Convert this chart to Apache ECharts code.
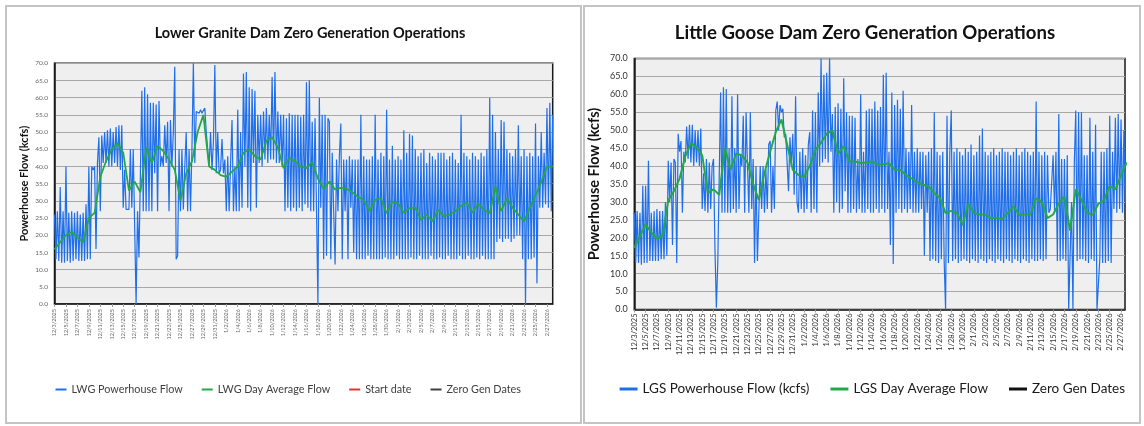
<!DOCTYPE html>
<html>
<head>
<meta charset="utf-8">
<script src="https://cdn.jsdelivr.net/npm/echarts@6/dist/echarts.min.js"></script>
<style>
  html, body { margin: 0; padding: 0; background: #fff; }
  #main { width: 1144px; height: 426px; }
</style>
</head>
<body>
<div id="main"></div>
<script>
// x axis runs in days from 12/3/2025, labelled every 2 days
const startDate = Date.UTC(2025, 11, 3);
const labelStepDays = 2;
const perDay = 4; // flow readings per day
const yMax = 70, yStep = 5;

// Lower Granite powerhouse flow (kcfs), 4 readings per day
const lwgFlow = [
  26, 13, 27, 12.5,   34, 12, 27, 12,   40, 12.5, 26.5, 12,   27, 12.5, 26.5, 13,
  27, 12.5, 26, 12.5,   26.5, 12.5, 29, 13,   40, 13, 40, 39,   40, 16, 41, 48.5,
  27, 49, 41, 50,   41, 50.5, 40, 51,   40, 50, 41, 51.5,   40, 52, 39, 52,
  28, 39, 27.5, 28,   27.5, 45, 28, 45,   45, 0, 27, 13.5,   13, 62, 27, 63,
  27, 61, 27, 58.5,   27, 58.5, 38, 58,   27, 59, 40, 43,   40, 52, 41, 53,
  27, 53.5, 40, 50,   69, 13, 14, 45,   27, 45, 27.5, 40,   50, 27, 45, 27,
  45, 70, 41, 56,   56, 55.5, 56.5, 55.5,   56, 57, 50, 45,   40, 50, 39, 47,
  69.5, 38, 50, 38,   39, 48, 38, 42,   27, 43, 27, 41,   53.5, 27, 40, 27,
  56.5, 27, 50, 28,   67, 40, 67.5, 28,   63, 27, 62.5, 41,   62, 28, 55, 41,
  55, 40, 56, 42,   57, 41, 55, 42,   66, 42, 67.5, 41,   56, 41, 55, 40,
  55, 27, 54, 28,   55.5, 27, 55, 28,   55, 27, 55, 28,   54.5, 27, 55, 29,
  64.5, 28, 65, 27,   53, 27, 54, 28,   0, 60, 28, 55,   13, 55, 14, 54,
  53, 13, 44, 27,   11.5, 42, 27, 43,   52.5, 13, 42, 27,   42, 13, 43, 28,
  42, 15, 42, 13,   42, 13, 55, 13,   43, 13, 42, 14,   42, 13, 43, 13,
  55, 13, 42, 13,   44, 13, 43, 13.5,   56.5, 13, 42, 13,   46, 13, 42, 14,
  43, 13, 42, 13,   50.5, 13, 44, 13,   49.5, 13.5, 49, 13,   45, 13, 43, 14,
  44, 13, 45, 13,   41, 13, 44, 14,   43, 13, 42, 13,   44, 13.5, 44, 13,
  44, 13, 42, 14,   43, 13, 44, 13,   42, 13, 41, 14,   55, 13, 44, 13,
  43, 14, 42, 13,   44, 13, 43, 13.5,   42, 13, 44, 14,   43, 13, 45, 13,
  60, 13, 55, 13,   50, 18, 45, 19,   53.5, 18, 53, 19,   45, 19, 44, 18,
  43, 19, 45, 20,   52, 20, 43, 13,   45, 0, 43, 13,   44, 13, 43, 13.5,
  52.5, 6, 43, 28,   50, 28, 44, 29,   57, 28, 58.5, 27,   55
];

// Lower Granite day average flow (kcfs), one per day
const lwgAvg = [
  15.9, 18, 20, 21, 19.2, 18, 25, 26.5, 37, 41.5,
  45, 46.8, 44, 33, 35.6, 32.5, 45.5, 41, 46, 44.5,
  42, 39, 30, 38, 41.5, 50, 55, 40, 39, 37.5,
  37, 38.5, 40, 44, 45, 43, 42, 47.5, 48.5, 45.5,
  39.5, 42.5, 41.5, 40, 39.5, 41.3, 36.5, 33.5, 35.6, 33.3,
  33.8, 33.5, 32.5, 31.2, 30.3, 27, 30.3, 30.8, 26.4, 29.8,
  29.3, 26.5, 27.9, 28, 24.5, 26, 24, 27.4, 25.5, 26,
  27, 28.5, 29.5, 26.5, 29.3, 27.4, 26.4, 34.1, 27, 30.8,
  28, 26, 24, 27.9, 31.5, 35.5, 39.9, 40
];

// Little Goose powerhouse flow (kcfs), 4 readings per day
const lgsFlow = [
  27, 13, 27.5, 13,   27, 12.5, 34.5, 13,   34.5, 13, 41.5, 13.5,   27, 13.5, 27.5, 13.5,
  28, 13.5, 27.5, 14,   27.5, 14, 30, 15,   41.5, 30, 41, 18,   42, 41, 13, 49,
  44, 47, 27, 44,   41, 51, 42, 51.5,   41, 51.5, 40, 50,   41, 50, 40, 50.5,
  28, 38, 27.5, 42,   27, 41, 28, 40,   42, 17, 0.5, 13,   13, 60.5, 27, 62,
  27, 61.5, 27, 45,   27, 59.5, 28, 45,   27, 60, 28, 43,   40, 54, 27, 55,
  40, 27, 55, 28,   42, 13, 40, 13.5,   27, 40, 28, 40,   27, 39, 28, 46,
  47, 27, 40, 28,   55.5, 58, 50, 57,   55, 56, 48, 49,   49, 33, 48, 40,
  49, 32, 59.5, 30,   27, 44, 28, 45,   27, 43, 28, 46,   49.5, 27, 55.5, 28,
  55, 27, 60.5, 40,   70, 41, 65.5, 42,   66, 41, 70, 44,   54.5, 27, 56.5, 30,
  57.5, 27, 56, 28,   64.5, 33, 55, 27,   54, 27, 54, 28,   53.5, 27, 42, 28,
  60, 27, 44, 27,   55.5, 28, 56, 27,   56, 27, 58, 28,   55.5, 27, 56.5, 28,
  65.5, 27, 66, 28,   44, 18, 60.5, 12.7,   57, 27, 58.5, 28,   56, 27, 61, 28,
  45, 27, 44, 28,   57, 27, 44, 27,   45, 27, 44, 28,   44, 15, 43, 27,
  44, 13.5, 45, 14,   55, 13.5, 44, 13,   43, 14, 44, 13.5,   0, 54, 13, 44,
  55.5, 13.5, 44, 14,   45, 13, 44, 13.5,   43, 14, 45, 13.5,   44, 13, 46, 14,
  43, 13.5, 44, 13,   48.5, 14, 50.5, 13.5,   44, 13, 43, 14,   44, 13.5, 45, 13,
  43, 14, 44, 13.5,   45, 13, 44, 14,   44, 13.5, 43, 13,   44, 14, 45, 13.5,
  43, 13, 44, 14,   45, 13.5, 44, 13,   43, 14, 44, 13.5,   58, 13.5, 44, 14,
  43, 13.5, 44, 14,   43, 27, 28, 27.5,   43, 27.5, 44, 13.5,   54.5, 13.5, 42, 14,
  42, 13.5, 43, 0,   0, 30, 0, 41,   55.5, 13.5, 55, 14,   55, 14, 43, 13.5,
  43, 13, 53.5, 14,   44, 13.5, 51.5, 0,   0, 14, 44, 13,   44, 13, 45, 13.5,
  54, 13, 44, 28,   53.5, 27, 54.5, 28,   53, 27, 50, 30,   47
];

// Little Goose day average flow (kcfs), one per day
const lgsAvg = [
  17.2, 20.5, 23.7, 21.5, 19.8, 20.5, 30.5, 33, 36.5, 42.7,
  46.4, 45.3, 43, 32.5, 33.5, 32, 45, 39, 43.5, 43,
  41, 35, 30.5, 38, 44, 49.5, 53, 46, 39, 37.5,
  37, 40, 44.5, 46.5, 49, 50, 43.5, 45.5, 41.3, 41.3,
  40.8, 41, 41.3, 40.5, 40.5, 40.8, 39, 39, 37.5, 36.6,
  35.5, 34.8, 34.3, 32.5, 31.1, 26.9, 27.5, 27, 23.5, 29.5,
  27, 26.5, 26.5, 25.5, 25.5, 25.2, 26.9, 28.8, 26.4, 26.5,
  26.5, 31, 30, 25.5, 26.5, 29.5, 31.5, 22, 33.5, 30.6,
  27, 26.4, 29.5, 30.5, 34.5, 33.5, 37.5, 41
];

const font = 'Lato, "Open Sans", sans-serif';

function dayLabel(v) {
  const d = Math.round(v);
  if (Math.abs(v - d) > 1e-6 || d % labelStepDays) return '';
  const dt = new Date(startDate + d * 86400000);
  return (dt.getUTCMonth() + 1) + '/' + dt.getUTCDate() + '/' + dt.getUTCFullYear();
}

function flowPoints(arr) { return arr.map((v, i) => [i / perDay, v]); }
function avgPoints(arr) { return arr.map((v, i) => [i, v]); }

function makeX(idx, max, fs, color, margin) {
  return {
    gridIndex: idx, type: 'value', min: 0, max: max, interval: labelStepDays,
    axisLine: { show: true, lineStyle: { color: '#1a1a1a', width: 1.5 } },
    axisTick: { show: true, length: 3, lineStyle: { color: '#999' } },
    splitLine: { show: false },
    axisLabel: { rotate: 90, fontSize: fs, color: color, margin: margin, fontFamily: font,
                 formatter: dayLabel, showMaxLabel: false }
  };
}
function makeY(idx, fs, color, nameSize, nameGap) {
  return {
    gridIndex: idx, type: 'value', min: 0, max: yMax, interval: yStep,
    axisLine: { show: true, lineStyle: { color: '#1a1a1a', width: 1.5 } },
    axisTick: { show: false },
    splitLine: { show: true, lineStyle: { color: '#a8a8a8', width: 1 } },
    axisLabel: { fontSize: fs, color: color, margin: 6.5, fontFamily: font, formatter: v => v.toFixed(1) },
    name: 'Powerhouse Flow (kcfs)', nameLocation: 'middle', nameRotate: 90, nameGap: nameGap,
    nameTextStyle: { fontSize: nameSize, fontWeight: 'bold', color: '#111', fontFamily: font }
  };
}

const chart = echarts.init(document.getElementById('main'));
chart.setOption({
  animation: false,
  backgroundColor: '#fff',
  textStyle: { fontFamily: font },
  graphic: [
    { type: 'rect', silent: true, z: -10, shape: { x: 6, y: 6, width: 575, height: 417 },
      style: { fill: '#fff', stroke: '#c4c4c4', lineWidth: 2 } },
    { type: 'rect', silent: true, z: -10, shape: { x: 584, y: 6, width: 556, height: 417 },
      style: { fill: '#fff', stroke: '#c4c4c4', lineWidth: 2 } },
    { type: 'text', silent: true, x: 310, y: 33,
      style: { text: 'Lower Granite Dam Zero Generation Operations', font: 'bold 14.5px ' + font,
               fill: '#111', align: 'center', verticalAlign: 'middle' } },
    { type: 'text', silent: true, x: 865, y: 33,
      style: { text: 'Little Goose Dam Zero Generation Operations', font: 'bold 18.6px ' + font,
               fill: '#111', align: 'center', verticalAlign: 'middle' } }
  ],
  grid: [
    { left: 54.5, top: 63.3, width: 498.2, height: 240.7, show: true, backgroundColor: '#efefef',
      borderColor: '#1a1a1a', borderWidth: 1.5, outerBoundsMode: 'none' },
    { left: 634.3, top: 58.5, width: 490.7, height: 251, show: true, backgroundColor: '#efefef',
      borderColor: '#1a1a1a', borderWidth: 1.5, outerBoundsMode: 'none' }
  ],
  xAxis: [makeX(0, 87, 5.5, '#6a6a6a', 5), makeX(1, 86.7, 7.5, '#333', 4)],
  yAxis: [makeY(0, 6.5, '#666', 11, 24.5), makeY(1, 9, '#333', 14.5, 32)],
  legend: [
    { left: 55.5, top: 384, padding: 0, icon: 'rect', itemWidth: 11, itemHeight: 2, itemGap: 19,
      textStyle: { fontSize: 10.8, color: '#404040', fontFamily: font },
      data: ['LWG Powerhouse Flow', 'LWG Day Average Flow', 'Start date',
             { name: 'Zero Gen Dates', itemStyle: { color: '#404040' } }] },
    { left: 619.6, top: 382, padding: 0, icon: 'rect', itemWidth: 18, itemHeight: 3, itemGap: 21,
      textStyle: { fontSize: 13.5, color: '#1a1a1a', fontFamily: font },
      data: ['LGS Powerhouse Flow (kcfs)', 'LGS Day Average Flow',
             { name: 'Zero Gen Dates', itemStyle: { color: '#111' } }] }
  ],
  series: [
    { name: 'LWG Powerhouse Flow', type: 'line', xAxisIndex: 0, yAxisIndex: 0, showSymbol: false,
      data: flowPoints(lwgFlow), color: '#1f6fea', lineStyle: { color: '#1f6fea', width: 1.2 } },
    { name: 'LWG Day Average Flow', type: 'line', xAxisIndex: 0, yAxisIndex: 0, showSymbol: false,
      data: avgPoints(lwgAvg), color: '#22a84a', lineStyle: { color: '#22a84a', width: 1.8 } },
    { name: 'Start date', type: 'line', xAxisIndex: 0, yAxisIndex: 0, showSymbol: false,
      data: [], color: '#e8312a' },
    { name: 'Zero Gen Dates', type: 'line', xAxisIndex: 0, yAxisIndex: 0, showSymbol: false,
      data: [], color: '#404040' },
    { name: 'LGS Powerhouse Flow (kcfs)', type: 'line', xAxisIndex: 1, yAxisIndex: 1, showSymbol: false,
      data: flowPoints(lgsFlow), color: '#1f6fea', lineStyle: { color: '#1f6fea', width: 1.2 } },
    { name: 'LGS Day Average Flow', type: 'line', xAxisIndex: 1, yAxisIndex: 1, showSymbol: false,
      data: avgPoints(lgsAvg), color: '#22a84a', lineStyle: { color: '#22a84a', width: 2 } }
  ]
});
</script>
</body>
</html>
